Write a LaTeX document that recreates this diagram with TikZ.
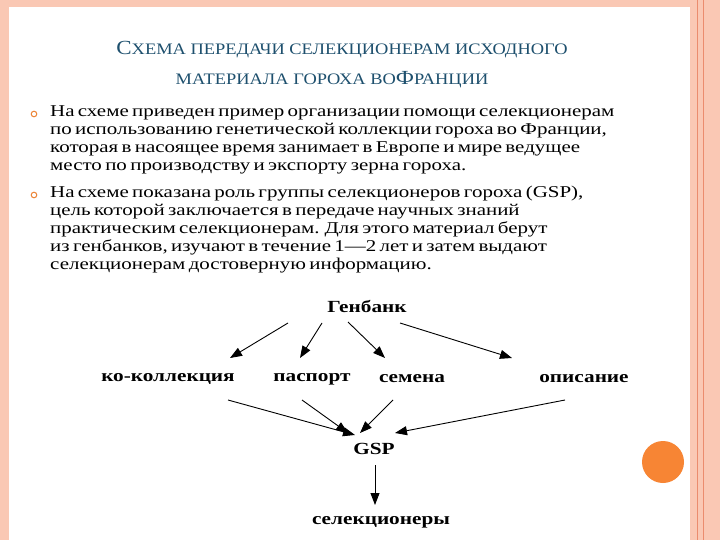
\documentclass[tikz,border=0pt]{standalone}
\usepackage{fontspec}
\setmainfont{Liberation Serif}
\newfontfamily\bodyf[FakeStretch=1.27]{Liberation Serif}
\newfontfamily\titf[FakeStretch=1.15]{Liberation Serif}
\newfontfamily\lblf[FakeStretch=1.25]{Liberation Serif}
\usetikzlibrary{arrows.meta}
\definecolor{pinkb}{RGB}{250,200,180}
\definecolor{pinkl}{RGB}{235,140,110}
\definecolor{titc}{RGB}{30,80,110}
\definecolor{orng}{RGB}{247,133,52}
\begin{document}
\begin{tikzpicture}[x=1pt,y=-1pt,
  lbl/.style={font=\lblf\fontsize{17}{19}\selectfont\bfseries, inner sep=2pt},
  arr/.style={-{Triangle[length=12pt,width=9pt]}, line width=0.9pt}]
\useasboundingbox (0,0) rectangle (720,540);
\fill[pinkb] (0,0) rectangle (720,540);
\fill[white] (9,7) rectangle (690,540);
\draw[pinkl, line width=0.7pt] (697,0) -- (697,540);
\draw[pinkl, line width=0.7pt] (703,0) -- (703,540);
\fill[orng] (663,462) circle (21);
% title
\node[titc, anchor=center] (t1) at (342,50) {\titf\fontsize{20}{22}\selectfont С\fontsize{16}{18}\selectfont ХЕМА ПЕРЕДАЧИ СЕЛЕКЦИОНЕРАМ ИСХОДНОГО};
\node[titc, anchor=center] (t2) at (332,80) {\titf\fontsize{16}{18}\selectfont МАТЕРИАЛА ГОРОХА ВО\fontsize{20}{22}\selectfont Ф\fontsize{16}{18}\selectfont РАНЦИИ};
% bullets
\draw[orng!80!brown, line width=1pt] (34,114) circle (2.8) (34,195) circle (2.8);
\node[anchor=north west, inner sep=0pt, align=left, text width=640] (b1) at (50,105)
 {\bodyf\fontsize{16.5}{18}\selectfont На схеме приведен пример организации помощи селекционерам\\ по использованию генетической коллекции гороха во Франции,\\ которая в насоящее время занимает в Европе и мире ведущее\\ место по производству и экспорту зерна гороха.\par};
\node[anchor=north west, inner sep=0pt, align=left, text width=640] (b2) at (50,186)
 {\bodyf\fontsize{16.5}{18}\selectfont На схеме показана роль группы селекционеров гороха (GSP),\\ цель которой заключается в передаче научных знаний\\ практическим селекционерам. Для этого материал берут\\ из генбанков, изучают в течение 1—2 лет и затем выдают\\ селекционерам достоверную информацию.\par};
% diagram
\node[lbl] (g) at (367,306) {Генбанк};
\node[lbl] (k) at (168,379) {ко-коллекция};
\node[lbl] (p) at (312,379) {паспорт};
\node[lbl] (s) at (412,379) {семена};
\node[lbl] (o) at (584,379) {описание};
\node[lbl] (gsp) at (374,449) {GSP};
\node[lbl] (sel) at (381,522) {селекционеры};
\draw[arr] ([shift={(-79,17)}]g.center) -- ([shift={(62,-21)}]k.center);
\draw[arr] ([shift={(-45,17)}]g.center) -- ([shift={(-12,-21)}]p.center);
\draw[arr] ([shift={(-19,16)}]g.center) -- ([shift={(-27,-21)}]s.center);
\draw[arr] ([shift={(33,17)}]g.center) -- ([shift={(-72,-21)}]o.center);
\draw[arr] ([shift={(60,21)}]k.center) -- ([shift={(-19,-14)}]gsp.center);
\draw[arr] ([shift={(-10,21)}]p.center) -- ([shift={(-26,-16)}]gsp.center);
\draw[arr] ([shift={(-19,21)}]s.center) -- ([shift={(-14,-16)}]gsp.center);
\draw[arr] ([shift={(-19,21)}]o.center) -- ([shift={(21,-16)}]gsp.center);
\draw[arr] ([shift={(1,16)}]gsp.center) -- ([shift={(-6,-17)}]sel.center);
\end{tikzpicture}
\end{document}
